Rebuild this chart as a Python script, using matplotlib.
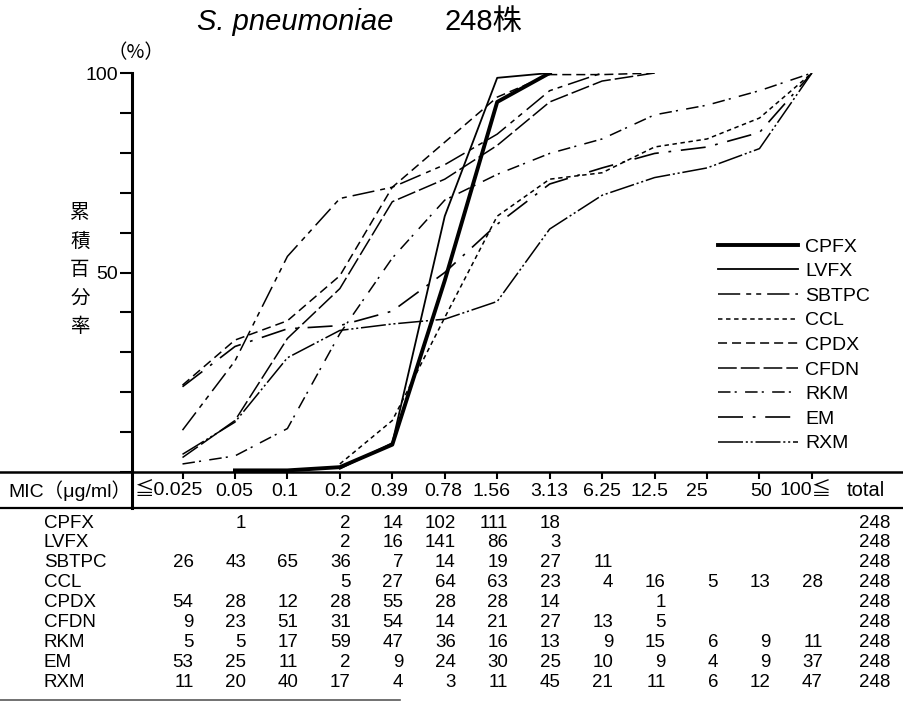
import numpy as np
import matplotlib
matplotlib.use('Agg')
import matplotlib.pyplot as plt
from matplotlib.lines import Line2D
from matplotlib.transforms import blended_transform_factory

# MIC classes (µg/ml) and number of strains in each class
mic_labels = ['≦0.025', '0.05', '0.1', '0.2', '0.39', '0.78', '1.56', '3.13',
              '6.25', '12.5', '25', '50', '100≦']
drugs = ['CPFX', 'LVFX', 'SBTPC', 'CCL', 'CPDX', 'CFDN', 'RKM', 'EM', 'RXM']
cpfx = [0, 1, 0, 2, 14, 102, 111, 18, 0, 0, 0, 0, 0]
lvfx = [0, 0, 0, 2, 16, 141, 86, 3, 0, 0, 0, 0, 0]
sbtpc = [26, 43, 65, 36, 7, 14, 19, 27, 11, 0, 0, 0, 0]
ccl = [0, 0, 0, 5, 27, 64, 63, 23, 4, 16, 5, 13, 28]
cpdx = [54, 28, 12, 28, 55, 28, 28, 14, 0, 1, 0, 0, 0]
cfdn = [9, 23, 51, 31, 54, 14, 21, 27, 13, 5, 0, 0, 0]
rkm = [5, 5, 17, 59, 47, 36, 16, 13, 9, 15, 6, 9, 11]
em = [53, 25, 11, 2, 9, 24, 30, 25, 10, 9, 4, 9, 37]
rxm = [11, 20, 40, 17, 4, 3, 11, 45, 21, 11, 6, 12, 47]
counts = [cpfx, lvfx, sbtpc, ccl, cpdx, cfdn, rkm, em, rxm]
totals = [248] * 9

plt.rcParams['font.family'] = ['Liberation Sans', 'Noto Sans CJK JP', 'DejaVu Sans']
plt.rcParams['lines.scale_dashes'] = False

W, H = 904, 703
fig = plt.figure(figsize=(W / 100, H / 100), dpi=100)


def fx(px):
    return px / W


def fy(py):
    return 1 - py / H


# pixel layout of the chart area
x0_px, step_px = 182.5, 52.45
ax_left, ax_top, ax_bottom = 132, 73, 472

ax = fig.add_axes([fx(ax_left), fy(ax_bottom), fx(W - ax_left), (ax_bottom - ax_top) / H])
ax.set_xlim((ax_left - x0_px) / step_px, (W - x0_px) / step_px)
ax.set_ylim(0, 100)
for s in ['top', 'right']:
    ax.spines[s].set_visible(False)
ax.spines['left'].set_linewidth(2.2)
ax.spines['bottom'].set_linewidth(1.8)

ax.set_yticks(range(0, 101, 10))
ax.set_yticklabels(['100' if v == 100 else '50' if v == 50 else '' for v in range(0, 101, 10)])
ax.tick_params(axis='y', direction='out', length=9, width=1.5, labelsize=14, pad=1)
ax.set_xticks(range(len(mic_labels)))
ax.set_xticklabels([])
ax.tick_params(axis='x', direction='out', length=5, width=1.5)

# line styles (dash patterns in points)
styles = {
    'CPFX': dict(lw=2.8, ls='-'),
    'LVFX': dict(lw=1.3, ls='-'),
    'SBTPC': dict(lw=1.1, ls=(0, (16, 4.3, 3.6, 3.6, 3.6, 4.3))),
    'CCL': dict(lw=1.1, ls=(0, (3.2, 2.6))),
    'CPDX': dict(lw=1.1, ls=(0, (6.5, 3.6))),
    'CFDN': dict(lw=1.1, ls=(0, (13.5, 2.9))),
    'RKM': dict(lw=1.1, ls=(0, (9, 3, 1.5, 6))),
    'EM': dict(lw=1.2, ls=(0, (18, 7, 2, 7))),
    'RXM': dict(lw=1.1, ls=(0, (18, 2, 1.5, 2, 1.5, 2))),
}

x = np.arange(len(mic_labels))
for name, c, tot in zip(drugs, counts, totals):
    c = np.array(c)
    cum = np.cumsum(c) / tot * 100
    nz = np.nonzero(c)[0]
    i0, i1 = nz[0], nz[-1]
    ax.plot(x[i0:i1 + 1], cum[i0:i1 + 1], color='black', label=name, **styles[name])

ax.legend(loc='upper left', bbox_to_anchor=(fx(718), fy(238)), bbox_transform=fig.transFigure,
          frameon=False, fontsize=14, handlelength=4.1, handletextpad=0.4,
          labelspacing=0.36, borderpad=0, borderaxespad=0)

# title
fig.text(fx(197), fy(22), 'S. pneumoniae', fontsize=21, style='italic', va='center', ha='left')
fig.text(fx(445), fy(22), '248株', fontsize=21, va='center', ha='left')

# y label, one character per line
for i, ch in enumerate('累積百分率'):
    fig.text(fx(80), fy(213 + 28.5 * i), ch, fontsize=14, ha='center', va='center',
             family=['Noto Sans CJK JP'])
fig.text(fx(136), fy(53), '（%）', fontsize=14, ha='center', va='center',
         family=['Noto Sans CJK JP', 'DejaVu Sans'])

# table frame lines
def hline(y, x1, x2, lw=1.5, color='black'):
    fig.add_artist(Line2D([fx(x1), fx(x2)], [fy(y), fy(y)], transform=fig.transFigure,
                          color=color, lw=lw))


hline(ax_bottom, 0, ax_left, lw=1.8)
hline(508, 0, W, lw=1.6)
hline(700, 0, 400, lw=1.2, color='0.35')
fig.add_artist(Line2D([fx(ax_left)] * 2, [fy(ax_bottom), fy(508)], transform=fig.transFigure,
                      color='black', lw=2.2))

# header row
hdr_y = 491
fig.text(fx(8), fy(hdr_y), 'MIC（μg/ml）', fontsize=14, ha='left', va='center')
header_pos = [(135, 'left'), (234, 'center'), (285, 'center'), (338, 'center'),
              (389, 'center'), (443, 'center'), (491, 'center'), (549, 'center'),
              (602, 'center'), (649, 'center'), (697, 'center'), (761, 'center'),
              (780, 'left')]
for lab, (px, ha) in zip(mic_labels, header_pos):
    fig.text(fx(px), fy(hdr_y), lab, fontsize=14, ha=ha, va='center')
fig.text(fx(866), fy(hdr_y), 'total', fontsize=14.5, ha='center', va='center')

# body rows
tr = blended_transform_factory(ax.transData, fig.transFigure)
for r, (name, c, tot) in enumerate(zip(drugs, counts, totals)):
    y = fy(523 + 19.9 * r)
    fig.text(fx(44), y, name, fontsize=13.5, ha='left', va='center')
    for i, v in enumerate(c):
        if v:
            ax.text(i + 0.21, y, str(v), fontsize=13.5, ha='right', va='center',
                    transform=tr, clip_on=False)
    fig.text(fx(890), y, str(tot), fontsize=13.5, ha='right', va='center')

fig.savefig('out.png', dpi=100)
